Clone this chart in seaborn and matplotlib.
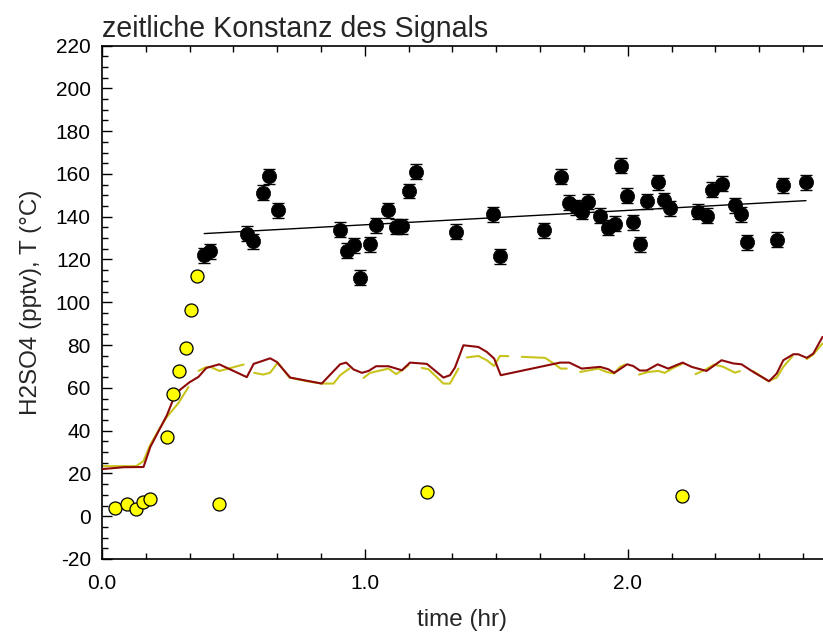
import numpy as np
import pandas as pd
import matplotlib
matplotlib.use("Agg")
import matplotlib.pyplot as plt
from matplotlib.ticker import MultipleLocator, FixedLocator
import seaborn as sns

# ---------------- data ----------------
# H2SO4 signal (black points with error bars)
black_t = [0.389, 0.412, 0.551, 0.574, 0.614, 0.637, 0.671, 0.906, 0.934, 0.960,
           0.982, 1.018, 1.043, 1.090, 1.118, 1.141, 1.168, 1.195, 1.347, 1.489,
           1.514, 1.682, 1.745, 1.778, 1.803, 1.825, 1.850, 1.895, 1.924, 1.952,
           1.973, 1.996, 2.021, 2.048, 2.072, 2.114, 2.138, 2.161, 2.268, 2.300,
           2.319, 2.357, 2.407, 2.430, 2.452, 2.567, 2.592, 2.678]
black_v = [122.0, 123.8, 132.1, 128.6, 151.1, 159.0, 143.0, 134.0, 124.0, 126.6,
           111.5, 127.0, 136.0, 143.0, 135.2, 135.5, 152.0, 160.9, 132.9, 141.1,
           121.6, 133.6, 158.6, 146.6, 144.3, 142.2, 146.9, 140.5, 134.9, 136.8,
           163.9, 149.9, 137.4, 127.1, 147.3, 156.1, 147.7, 143.9, 142.4, 140.5,
           152.7, 155.5, 145.3, 141.1, 128.0, 129.3, 154.7, 156.1]
black_err = 3.5

# linear fit line of the signal
fit_t = [0.389, 2.678]
fit_v = [132.1, 147.5]

# yellow points
yellow_t = [0.049, 0.097, 0.128, 0.156, 0.181, 0.248, 0.272, 0.293, 0.318, 0.338,
            0.362, 0.447, 1.238, 2.208]
yellow_v = [3.9, 5.5, 3.3, 6.5, 7.9, 37.2, 57.3, 68.1, 78.8, 96.3,
            112.1, 5.5, 11.1, 9.3]

# temperature 1 (dark red line)
red_t = [0.0, 0.082, 0.158, 0.184, 0.247, 0.275, 0.298, 0.333, 0.367, 0.397,
         0.446, 0.551, 0.577, 0.640, 0.665, 0.716, 0.836, 0.881, 0.906, 0.929,
         0.957, 0.989, 1.014, 1.043, 1.090, 1.141, 1.172, 1.236, 1.299, 1.324,
         1.343, 1.375, 1.432, 1.464, 1.492, 1.517, 1.743, 1.778, 1.825, 1.895,
         1.926, 1.949, 1.998, 2.021, 2.046, 2.072, 2.114, 2.154, 2.209, 2.243,
         2.300, 2.357, 2.402, 2.433, 2.478, 2.538, 2.567, 2.592, 2.630, 2.649,
         2.681, 2.706, 2.741]
red_v = [22.0, 22.9, 23.0, 32.4, 47.2, 55.8, 59.2, 62.6, 65.1, 69.3,
         71.0, 65.0, 71.2, 73.8, 72.1, 64.8, 62.0, 67.8, 71.0, 71.8,
         68.6, 67.0, 67.9, 70.1, 70.1, 68.2, 71.8, 71.2, 64.8, 65.9,
         69.5, 79.9, 79.1, 76.8, 73.7, 65.9, 71.8, 71.8, 69.0, 69.8,
         68.7, 67.0, 71.0, 70.2, 68.1, 68.1, 71.0, 69.0, 71.8, 69.8,
         67.9, 72.9, 71.4, 71.0, 67.4, 63.1, 66.7, 72.9, 75.7, 75.7,
         74.0, 76.0, 83.8]

# temperature 2 (yellow-green line, broken into segments)
olive_t = [0.0, 0.130, 0.158, 0.181, 0.215, 0.247, 0.291, 0.329,
           0.367, 0.393, 0.412, 0.447, 0.539,
           0.579, 0.614, 0.640, 0.669, 0.713, 0.779, 0.836, 0.881, 0.906, 0.941,
           0.995, 1.020, 1.090, 1.119, 1.141, 1.166,
           1.217, 1.242, 1.299, 1.324, 1.356,
           1.388, 1.432, 1.464, 1.492, 1.514, 1.546,
           1.597, 1.686, 1.724, 1.745, 1.768,
           1.819, 1.888, 1.920, 1.948, 1.971, 1.990,
           2.043, 2.078, 2.116, 2.141, 2.173, 2.211,
           2.258, 2.297, 2.329, 2.364, 2.408, 2.427,
           2.478, 2.535, 2.567, 2.592, 2.627,
           2.681, 2.706, 2.741]
olive_v = [23.4, 23.4, 25.8, 32.7, 40.2, 46.4, 52.9, 60.4,
           67.9, 69.5, 69.8, 67.9, 70.9,
           67.0, 66.2, 67.1, 71.8, 64.8, 63.1, 62.0, 62.0, 65.9, 69.0,
           64.6, 67.0, 69.0, 66.4, 68.2, 70.6,
           69.3, 68.7, 62.0, 62.0, 69.0,
           74.2, 74.9, 72.9, 70.2, 74.9, 74.8,
           74.5, 74.0, 70.9, 69.0, 69.0,
           67.4, 69.0, 67.4, 66.7, 69.8, 70.9,
           66.2, 67.4, 67.9, 67.0, 69.3, 71.4,
           66.4, 68.6, 70.9, 69.8, 67.1, 67.8,
           67.8, 63.1, 64.8, 69.8, 74.8,
           73.4, 75.6, 80.7]
olive_seg = [0] * 8 + [1] * 5 + [2] * 10 + [3] * 6 + [4] * 5 + [5] * 6 + [6] * 5 + \
            [7] * 6 + [8] * 6 + [9] * 6 + [10] * 5 + [11] * 3

title = "zeitliche Konstanz des Signals"
xlabel = "time (hr)"
ylabel = "H2SO4 (pptv), T (°C)"
xticks = [0.0, 1.0, 2.0]
xticklabels = ["0.0", "1.0", "2.0"]
yticks = list(range(-20, 221, 20))

# ---------------- plot ----------------
sns.set_theme(style="white")
plt.rcParams["font.family"] = ["Liberation Sans", "DejaVu Sans"]
plt.rcParams["axes.unicode_minus"] = False

fig = plt.figure(figsize=(8.23, 6.35), dpi=100)
ax = fig.add_axes([0.1239, 0.1197, 0.8761, 0.8086])

red_df = pd.DataFrame({"t": red_t, "v": red_v})
olive_df = pd.DataFrame({"t": olive_t, "v": olive_v, "seg": olive_seg})
black_df = pd.DataFrame({"t": black_t, "v": black_v})
yellow_df = pd.DataFrame({"t": yellow_t, "v": yellow_v})
fit_df = pd.DataFrame({"t": fit_t, "v": fit_v})

sns.lineplot(data=olive_df, x="t", y="v", units="seg", estimator=None,
             color="#c8c41c", lw=1.5, ax=ax, zorder=2, sort=False)
sns.lineplot(data=red_df, x="t", y="v", estimator=None, color="#8e0a0a",
             lw=1.5, ax=ax, zorder=3, sort=False)
sns.lineplot(data=fit_df, x="t", y="v", estimator=None, color="black",
             lw=1.0, ax=ax, zorder=4)
sns.scatterplot(data=yellow_df, x="t", y="v", color="#ffff00", edgecolor="black",
                linewidth=0.9, s=88, ax=ax, zorder=5)
ax.errorbar(black_t, black_v, yerr=black_err, fmt="none", ecolor="black",
            elinewidth=1.0, capsize=4.5, capthick=1.0, zorder=5)
sns.scatterplot(data=black_df, x="t", y="v", color="black", edgecolor="black",
                linewidth=0.5, s=105, ax=ax, zorder=6)

ax.set_xlim(0, 2.743)
ax.set_ylim(-20, 220)
ax.xaxis.set_major_locator(FixedLocator(xticks))
ax.set_xticklabels(xticklabels)
ax.xaxis.set_minor_locator(MultipleLocator(1 / 6))
ax.yaxis.set_major_locator(FixedLocator(yticks))
ax.yaxis.set_minor_locator(MultipleLocator(5))

ax.tick_params(which="both", direction="in", top=True, right=False,
               bottom=True, left=True, colors="black", labelsize=15)
ax.tick_params(which="major", length=7, width=1.0)
ax.tick_params(which="minor", length=4, width=1.0)
ax.tick_params(axis="x", which="major", pad=11)
ax.tick_params(axis="y", which="major", pad=8)

for side in ["left", "bottom", "top"]:
    ax.spines[side].set_visible(True)
    ax.spines[side].set_color("black")
    ax.spines[side].set_linewidth(1.2)
ax.spines["right"].set_visible(False)

ax.set_xlabel(xlabel, fontsize=17.5, labelpad=11)
ax.set_ylabel(ylabel, fontsize=17.5, labelpad=10)
ax.set_title(title, fontsize=20.6, loc="left", pad=6)

fig.savefig("out.png", dpi=100)
